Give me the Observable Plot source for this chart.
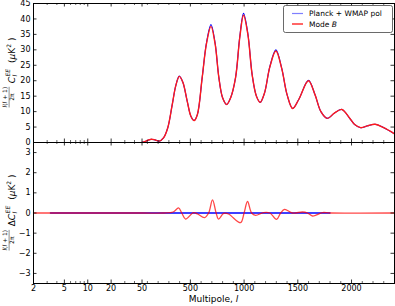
<!DOCTYPE html>
<html><head><meta charset="utf-8">
<script src="https://cdn.jsdelivr.net/npm/d3@7"></script>
<script src="https://cdn.jsdelivr.net/npm/@observablehq/plot@0.6"></script>
<style>
body{margin:0;background:#fff}
#c{position:relative;width:395px;height:306px;background:#fff;font-family:"DejaVu Sans",sans-serif}
#c svg{position:absolute;left:0;top:0;overflow:visible}
</style></head><body><div id="c"></div>
<script>
// ---- data ----
const ellModeB = [50,80,110,137,170,210,250,290,330,365,397,430,470,505,535,565,610,650,692,730,765,800,838,875,921,960,995,1035,1075,1115,1150,1190,1240,1296,1350,1400,1452,1510,1599,1660,1715,1775,1840,1910,1980,2030,2085,2150,2220,2300,2400];
const eeModeB  = [0.05,0.35,0.8,1.05,0.85,0.45,1.5,4.8,12,18.5,21.4,19.5,13.5,8.5,7.1,9,21,32,37.6,32,21.1,14.5,12.3,14.5,21.1,34,41.2,35,22,15,13,16,24.5,29.6,24,15.5,11,14,20,15.5,10,7.8,9.5,10.7,8,5.8,4.8,5.4,5.9,4.8,2.8];
const ellPlanck = [50,80,110,137,170,210,250,290,330,365,397,430,470,505,535,565,610,650,692,730,765,800,838,875,921,960,995,1035,1075,1115,1150,1190,1240,1296,1350,1400,1452,1510,1599,1660,1715,1775,1840,1910,1980,2030,2085,2150,2220,2300,2400];
const eePlanck  = [0.05,0.35,0.8,1.05,0.85,0.45,1.5,4.8,12,18.5,21.5,19.5,13.5,8.5,7.1,9,21,32.3,38.2,32.3,21.1,14.5,12.3,14.5,21.1,34.3,41.8,35.3,22,15,13,16,24.6,30.0,24.1,15.5,11,14,20.1,15.5,10,7.8,9.5,10.7,8,5.8,4.8,5.4,5.9,4.8,2.8];
const ellDeltaModeB = [2,50,250,340,390,420,455,530,567,632,670,706,740,762,810,855,967,1000,1032,1070,1107,1180,1240,1302,1340,1377,1450,1544,1590,1637,1730,1800,2400];
const deltaModeB    = [0,0,0,0.05,0.25,0,-0.3,0.02,-0.05,-0.23,0,0.65,0,-0.3,-0.02,-0.05,-0.48,0,0.57,0,-0.12,0.02,0,-0.32,0,0.18,0,0.05,0,-0.15,0.02,0,0];
const ellDeltaPlanck = [3.3,1800];
const deltaPlanck    = [0,0];
const xTickMajor  = [2,5,10,20,50,500,1000,1500,2000];
const xTickLabels = ["2","5","10","20","50","500","1000","1500","2000"];
const xTickMinor  = [3,4,6,7,8,9,30,40,100,200,300,400,600,700,800,900,1100,1200,1300,1400,1600,1700,1800,1900,2100,2200,2300];
const yTopTicks = [0,5,10,15,20,25,30,35,40,45];
const yBotTicks = [-3,-2,-1,0,1,2,3];

// ---- hybrid log/linear multipole axis ----
const LMIN = 2, LJ = 50, LMAX = 2400, FLOG = 0.3006;
const hx = l => l <= LJ ? Math.log(l / LMIN) / Math.log(LJ / LMIN) * FLOG
                        : FLOG + (l - LJ) / (LMAX - LJ) * (1 - FLOG);
const zip = (a, b) => a.map((v, i) => ({l: v, v: b[i]}));

const W = 395, H = 306, ML = 33, MR = 1;
const TOP0 = 3, TOP1 = 142, BOT1 = 283;
const PW = W - ML - MR;
const MAJ = 3.5, MIN = 2;
const fmt = d => d < 0 ? "\u2212" + (-d) : String(d);
const xlab = new Map(xTickMajor.map((t, i) => [hx(t), xTickLabels[i]]));

function tickMarks(ph) {
  return [
    Plot.tickX(xTickMajor, {x: hx, insetTop: ph - MAJ, stroke: "black", strokeWidth: 0.8}),
    Plot.tickX(xTickMajor, {x: hx, insetBottom: ph - MAJ, stroke: "black", strokeWidth: 0.8}),
    Plot.tickX(xTickMinor, {x: hx, insetTop: ph - MIN, stroke: "black", strokeWidth: 0.6}),
    Plot.tickX(xTickMinor, {x: hx, insetBottom: ph - MIN, stroke: "black", strokeWidth: 0.6})
  ];
}
function yTickMarks(ticks) {
  return [
    Plot.tickY(ticks, {y: d => d, insetRight: PW - MAJ, stroke: "black", strokeWidth: 0.8}),
    Plot.tickY(ticks, {y: d => d, insetLeft: PW - MAJ, stroke: "black", strokeWidth: 0.8})
  ];
}
const baseStyle = {background: "transparent", fontFamily: "DejaVu Sans", fontSize: "8px", color: "black"};

const topPlot = Plot.plot({
  width: W, height: H, marginLeft: ML, marginRight: MR, marginTop: TOP0, marginBottom: H - TOP1,
  style: baseStyle,
  x: {domain: [0, 1], axis: null},
  y: {domain: [0, 45], axis: null},
  marks: [
    Plot.line(zip(ellPlanck, eePlanck), {x: d => hx(d.l), y: "v", stroke: "blue", strokeWidth: 1.1, curve: "catmull-rom"}),
    Plot.line(zip(ellModeB, eeModeB), {x: d => hx(d.l), y: "v", stroke: "#ff1a1a", strokeWidth: 1.4, curve: "catmull-rom"}),
    ...tickMarks(TOP1 - TOP0),
    ...yTickMarks(yTopTicks),
    Plot.axisY(yTopTicks, {tickSize: 0, tickPadding: 3, tickFormat: fmt, fontSize: 8, label: null}),
    Plot.frame({stroke: "black", strokeWidth: 1})
  ]
});

const botPlot = Plot.plot({
  width: W, height: H, marginLeft: ML, marginRight: MR, marginTop: TOP1, marginBottom: H - BOT1,
  style: baseStyle,
  x: {domain: [0, 1], axis: null},
  y: {domain: [-3.5, 3.5], axis: null},
  marks: [
    Plot.line(zip(ellDeltaPlanck, deltaPlanck), {x: d => hx(d.l), y: "v", stroke: "blue", strokeWidth: 1.3}),
    Plot.line(zip(ellDeltaModeB, deltaModeB), {x: d => hx(d.l), y: "v", stroke: "red", strokeOpacity: 0.72, strokeWidth: 1.3, curve: "catmull-rom"}),
    ...tickMarks(BOT1 - TOP1),
    ...yTickMarks(yBotTicks),
    Plot.axisY(yBotTicks, {tickSize: 0, tickPadding: 3, tickFormat: fmt, fontSize: 8, label: null}),
    Plot.axisX(xTickMajor.map(hx), {tickSize: 0, tickPadding: 2, tickFormat: d => xlab.get(d), fontSize: 8, label: null}),
    Plot.frame({stroke: "black", strokeWidth: 1})
  ]
});

const c = document.getElementById("c");
c.appendChild(botPlot);
c.appendChild(topPlot);

function yLabel(svg, cx, cy, delta) {
  const g = d3.select(svg).append("g")
    .attr("transform", `translate(${cx},${cy}) rotate(-90)`)
    .attr("font-family", "DejaVu Sans").attr("fill", "black").attr("text-anchor", "start");
  const frac = g.append("text").attr("font-size", 6).attr("y", -4.6).attr("text-anchor", "middle");
  frac.append("tspan").attr("font-style", "italic").text("l");
  frac.append("tspan").text("(");
  frac.append("tspan").attr("font-style", "italic").text("l");
  frac.append("tspan").text(" + 1)");
  const fw = frac.node().getComputedTextLength();
  const den = g.append("text").attr("font-size", 6).attr("y", 2).attr("text-anchor", "middle").text("2\u03c0");
  const main = g.append("text").attr("font-size", 9).attr("y", 3).attr("text-anchor", "start");
  if (delta) main.append("tspan").text("\u0394");
  main.append("tspan").attr("font-style", "italic").text("C");
  const mw = main.node().getComputedTextLength();
  const sup = g.append("text").attr("font-size", 6).attr("font-style", "italic").attr("y", -2).attr("text-anchor", "start").text("EE");
  const sw = sup.node().getComputedTextLength();
  const sub = g.append("text").attr("font-size", 6).attr("font-style", "italic").attr("y", 5.3).attr("text-anchor", "start").text("l");
  const unit = g.append("text").attr("font-size", 9).attr("y", 3).attr("text-anchor", "start");
  unit.append("tspan").text("(");
  unit.append("tspan").attr("font-style", "italic").text("\u03bc");
  unit.append("tspan").text("K");
  unit.append("tspan").attr("font-size", 6).attr("dy", -3.8).text("2");
  unit.append("tspan").attr("dy", 3.8).text(" )");
  const uw = unit.node().getComputedTextLength();
  const gap1 = 3.5, gap2 = 6;
  const total = fw + gap1 + mw + 0.5 + sw + gap2 + uw;
  let x = -total / 2;
  frac.attr("x", x + fw / 2);
  den.attr("x", x + fw / 2);
  g.append("line").attr("x1", x).attr("x2", x + fw).attr("y1", -2.9).attr("y2", -2.9)
   .attr("stroke", "black").attr("stroke-width", 0.45);
  x += fw + gap1;
  main.attr("x", x);
  x += mw + 0.5;
  sup.attr("x", x);
  sub.attr("x", x);
  x += sw + gap2;
  unit.attr("x", x);
}
yLabel(topPlot, 12, (TOP0 + TOP1) / 2, false);
yLabel(botPlot, 12, (TOP1 + BOT1) / 2, true);

// x label
const xl = d3.select(botPlot).append("text")
  .attr("x", ML + PW / 2).attr("y", 302).attr("text-anchor", "middle")
  .attr("font-family", "DejaVu Sans").attr("font-size", 9).attr("fill", "black");
xl.append("tspan").text("Multipole, ");
xl.append("tspan").attr("font-style", "italic").text("l");

// legend
const lg = d3.select(topPlot).append("g").attr("font-family", "DejaVu Sans").attr("font-size", 7.5).attr("text-anchor", "start");
lg.append("rect").attr("x", 283.5).attr("y", 5.5).attr("width", 109).attr("height", 27).attr("rx", 2)
  .attr("fill", "white").attr("stroke", "#444").attr("stroke-width", 0.8);
lg.append("line").attr("x1", 292).attr("x2", 303).attr("y1", 13.5).attr("y2", 13.5)
  .attr("stroke", "blue").attr("stroke-opacity", 0.5).attr("stroke-width", 1.2);
lg.append("line").attr("x1", 292).attr("x2", 303).attr("y1", 24).attr("y2", 24)
  .attr("stroke", "red").attr("stroke-width", 1.2);
lg.append("text").attr("x", 309).attr("y", 16.2).attr("text-anchor", "start").text("Planck + WMAP pol");
const t2 = lg.append("text").attr("x", 309).attr("y", 26.7).attr("text-anchor", "start");
t2.append("tspan").text("Mode ");
t2.append("tspan").attr("font-style", "italic").text("B");
</script></body></html>
